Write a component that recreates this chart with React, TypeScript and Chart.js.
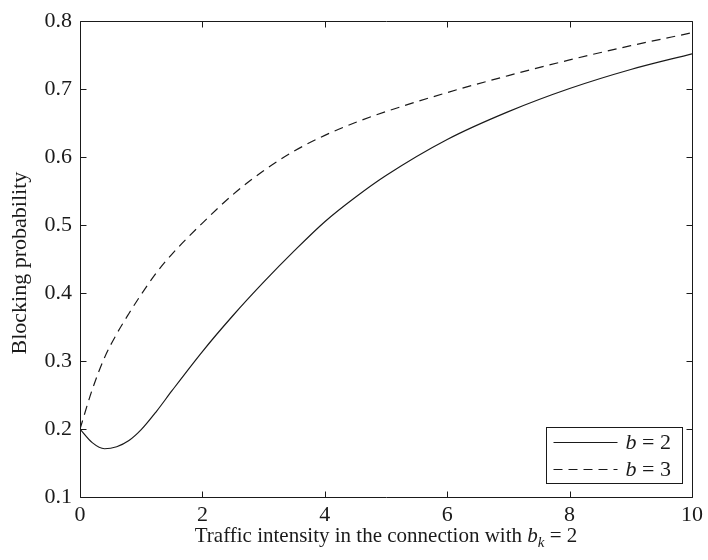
import React, { useEffect, useRef } from "react";
import { Chart, registerables } from "chart.js";
Chart.register(...registerables);

const xValues = [0, 0.2, 0.4, 0.6, 0.8, 1, 1.25, 1.5, 2, 2.5, 3, 3.5, 4, 4.5, 5, 6, 7, 8, 9, 10];
const b2Values = [0.2, 0.18, 0.171, 0.174, 0.183, 0.199, 0.226, 0.256, 0.314, 0.367, 0.416, 0.462, 0.505, 0.541, 0.573, 0.626, 0.667, 0.701, 0.729, 0.752];
const b3Values = [0.2, 0.258, 0.305, 0.34, 0.37, 0.398, 0.43, 0.457, 0.503, 0.545, 0.58, 0.609, 0.632, 0.651, 0.667, 0.695, 0.72, 0.743, 0.764, 0.783];
const xTicks = [0, 2, 4, 6, 8, 10];
const yTicks = [0.1, 0.2, 0.3, 0.4, 0.5, 0.6, 0.7, 0.8];
const seriesNames = ["b", "b"];
const seriesSuffix = [" = 2", " = 3"];
const xTitleMain = "Traffic intensity in the connection with ";
const xTitleVar = "b";
const xTitleSub = "k";
const xTitleEnd = " = 2";
const yTitle = "Blocking probability";

const FONT = '"Liberation Serif", "Times New Roman", serif';
const FS = 22;
const TFS = 21;
const INK = "#1a1a1a";
const DASH = [9, 6];

const framePlugin = {
  id: "matlabFrame",
  afterDraw(chart: any) {
    const { ctx, chartArea: a, scales } = chart;
    const L = Math.round(a.left) + 0.5;
    const R = Math.round(a.right) + 0.5;
    const T = Math.round(a.top) + 0.5;
    const B = Math.round(a.bottom) + 0.5;
    ctx.save();
    ctx.strokeStyle = INK;
    ctx.lineWidth = 1;
    ctx.beginPath();
    ctx.rect(L, T, R - L, B - T);
    const tl = 6;
    xTicks.forEach((v) => {
      const p = Math.round(scales.x.getPixelForValue(v)) + 0.5;
      ctx.moveTo(p, B);
      ctx.lineTo(p, B - tl);
      ctx.moveTo(p, T);
      ctx.lineTo(p, T + tl);
    });
    yTicks.forEach((v) => {
      const p = Math.round(scales.y.getPixelForValue(v)) + 0.5;
      ctx.moveTo(L, p);
      ctx.lineTo(L + tl, p);
      ctx.moveTo(R, p);
      ctx.lineTo(R - tl, p);
    });
    ctx.stroke();

    // legend
    const lw = 136;
    const lh = 56;
    const lx = Math.round(a.right) - 10 - lw + 0.5;
    const ly = Math.round(a.bottom) - 14 - lh + 0.5;
    ctx.fillStyle = "#fff";
    ctx.fillRect(lx, ly, lw, lh);
    ctx.strokeRect(lx, ly, lw, lh);
    const rows = [ly + 14.5, ly + 41.5];
    ctx.textBaseline = "middle";
    rows.forEach((ry, i) => {
      const y = Math.round(ry) + 0.5;
      ctx.beginPath();
      ctx.setLineDash(i === 0 ? [] : DASH);
      ctx.moveTo(lx + 7, y);
      ctx.lineTo(lx + 71, y);
      ctx.stroke();
      ctx.setLineDash([]);
      ctx.fillStyle = INK;
      let tx = lx + 79;
      ctx.font = `italic ${FS}px ${FONT}`;
      ctx.textAlign = "left";
      ctx.fillText(seriesNames[i], tx, ry + 1);
      tx += ctx.measureText(seriesNames[i]).width;
      ctx.font = `${FS}px ${FONT}`;
      ctx.fillText(seriesSuffix[i], tx, ry + 1);
    });

    // x title
    ctx.fillStyle = INK;
    ctx.textBaseline = "alphabetic";
    ctx.textAlign = "left";
    const parts = [
      { t: xTitleMain, f: `${TFS}px ${FONT}`, dy: 0 },
      { t: xTitleVar, f: `italic ${TFS}px ${FONT}`, dy: 0 },
      { t: xTitleSub, f: `italic ${Math.round(TFS * 0.72)}px ${FONT}`, dy: 5 },
      { t: xTitleEnd, f: `${TFS}px ${FONT}`, dy: 0 },
    ];
    let total = 0;
    parts.forEach((p) => {
      ctx.font = p.f;
      total += ctx.measureText(p.t).width;
    });
    let x = (a.left + a.right) / 2 - total / 2;
    const base = a.bottom + 45;
    parts.forEach((p) => {
      ctx.font = p.f;
      ctx.fillText(p.t, x, base + p.dy);
      x += ctx.measureText(p.t).width;
    });

    // y title
    ctx.save();
    ctx.translate(26, (a.top + a.bottom) / 2 + 4);
    ctx.rotate(-Math.PI / 2);
    ctx.font = `${FS}px ${FONT}`;
    ctx.textAlign = "center";
    ctx.textBaseline = "alphabetic";
    ctx.fillText(yTitle, 0, 0);
    ctx.restore();
    ctx.restore();
  },
};

export default function App() {
  const ref = useRef<HTMLCanvasElement | null>(null);
  useEffect(() => {
    if (!ref.current) return;
    const chart = new Chart(ref.current, {
      type: "line",
      data: {
        datasets: [
          {
            label: "b = 2",
            data: xValues.map((x, i) => ({ x, y: b2Values[i] })),
            borderColor: INK,
            borderWidth: 1.2,
            pointRadius: 0,
            fill: false,
            cubicInterpolationMode: "monotone",
          },
          {
            label: "b = 3",
            data: xValues.map((x, i) => ({ x, y: b3Values[i] })),
            borderColor: INK,
            borderWidth: 1.2,
            borderDash: DASH,
            pointRadius: 0,
            fill: false,
            cubicInterpolationMode: "monotone",
          },
        ],
      },
      options: {
        responsive: false,
        animation: false,
        devicePixelRatio: 1,
        layout: { padding: { left: 0, right: 13, top: 12, bottom: 0 } },
        plugins: { legend: { display: false }, tooltip: { enabled: false } },
        scales: {
          x: {
            type: "linear",
            min: 0,
            max: 10,
            grid: { display: false, drawTicks: false },
            border: { display: false },
            afterBuildTicks: (s: any) => {
              s.ticks = xTicks.map((v) => ({ value: v }));
            },
            afterFit: (s: any) => {
              s.height = 63;
            },
            ticks: {
              padding: 5,
              color: INK,
              maxRotation: 0,
              font: { family: FONT, size: FS },
              callback: (v: any) => String(v),
            },
          },
          y: {
            type: "linear",
            min: 0.1,
            max: 0.8,
            grid: { display: false, drawTicks: false },
            border: { display: false },
            afterBuildTicks: (s: any) => {
              s.ticks = yTicks.map((v) => ({ value: v }));
            },
            afterFit: (s: any) => {
              s.width = 80;
            },
            ticks: {
              padding: 8,
              color: INK,
              font: { family: FONT, size: FS },
              callback: (v: any) => Number(v).toFixed(1),
            },
          },
        },
      },
      plugins: [framePlugin],
    });
    return () => chart.destroy();
  }, []);
  return (
    <div style={{ position: "fixed", left: 0, top: 0, width: 708, height: 560, background: "#fff" }}>
      <canvas ref={ref} width={708} height={560} style={{ display: "block" }} />
    </div>
  );
}
